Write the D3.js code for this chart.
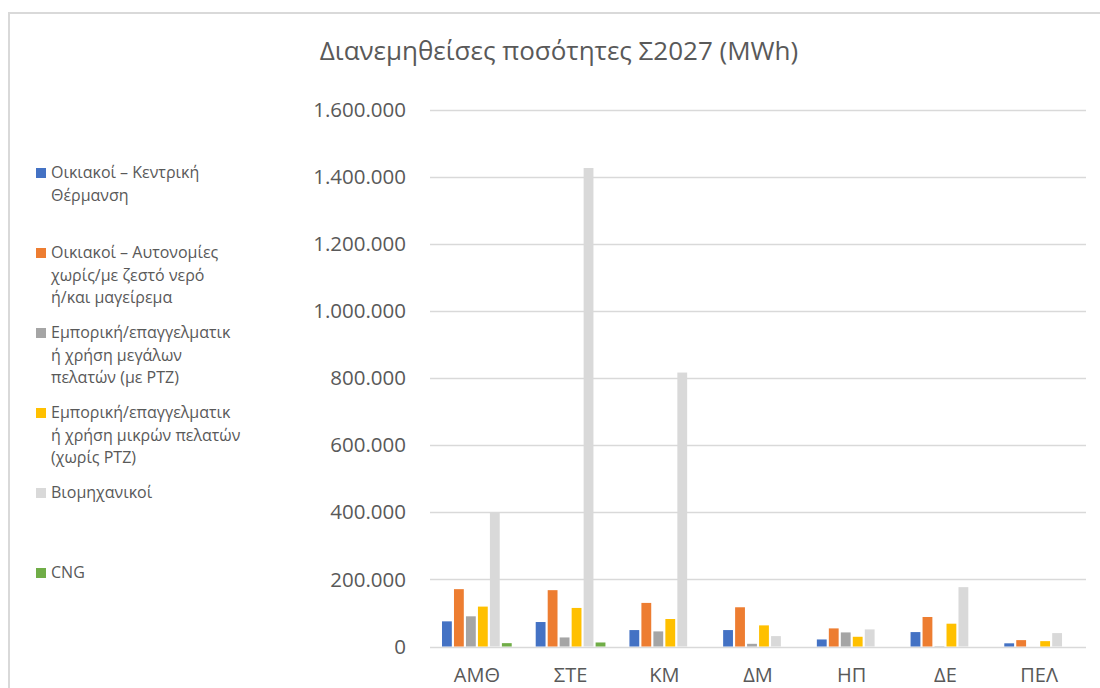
<!DOCTYPE html>
<html>
<head>
<meta charset="utf-8">
<script src="https://cdn.jsdelivr.net/npm/d3@7"></script>
<style>
    body { margin: 0; background: #fff; }
    text { font-family: "Open Sans", sans-serif; fill: #595959; }
</style>
</head>
<body>
<div id="chart"></div>
<script>
// -- DATA ----------------------------

let regions = ["ΑΜΘ", "ΣΤΕ", "ΚΜ", "ΔΜ", "ΗΠ", "ΔΕ", "ΠΕΛ"];

let seriesNames = [
    "Οικιακοί – Κεντρική Θέρμανση",
    "Οικιακοί – Αυτονομίες χωρίς/με ζεστό νερό ή/και μαγείρεμα",
    "Εμπορική/επαγγελματική χρήση μεγάλων πελατών (με PTZ)",
    "Εμπορική/επαγγελματική χρήση μικρών πελατών (χωρίς PTZ)",
    "Βιομηχανικοί",
    "CNG"
];

// legend text as it wraps in the picture
let legendLines = [
    ["Οικιακοί – Κεντρική", "Θέρμανση"],
    ["Οικιακοί – Αυτονομίες", "χωρίς/με ζεστό νερό", "ή/και μαγείρεμα"],
    ["Εμπορική/επαγγελματικ", "ή χρήση μεγάλων", "πελατών (με PTZ)"],
    ["Εμπορική/επαγγελματικ", "ή χρήση μικρών πελατών", "(χωρίς PTZ)"],
    ["Βιομηχανικοί"],
    ["CNG"]
];

let colors = ["#4472C4", "#ED7D31", "#A5A5A5", "#FFC000", "#D9D9D9", "#70AD47"];

// MWh per region, one array per series (same order as regions)
let centralHeating = [75000, 73000, 49000, 49000, 21000, 43000, 9500];
let autonomous     = [171000, 168000, 130000, 117000, 54000, 88000, 19000];
let commercialBig  = [90000, 27000, 45000, 8000, 42000, 1000, 0];
let commercialSmall= [119000, 115000, 82000, 63000, 29000, 68000, 16000];
let industrial     = [399000, 1427000, 817000, 31000, 51000, 177000, 40000];
let cng            = [10000, 12000, 0, 0, 0, 0, 0];

let yTicks = [0, 200000, 400000, 600000, 800000, 1000000, 1200000, 1400000, 1600000];

let seriesValues = [centralHeating, autonomous, commercialBig, commercialSmall, industrial, cng];

// -- LAYOUT ----------------------------

let width = 1100,
    height = 688;

var plot = { left: 430, right: 1086, top: 110, bottom: 646.5 };

var svg = d3.select("#chart")
    .append("svg")
    .attr("width", width)
    .attr("height", height);

// chart border
svg.append("rect")
    .attr("x", 9)
    .attr("y", 13)
    .attr("width", 1100)
    .attr("height", 700)
    .attr("fill", "none")
    .attr("stroke", "#d9d9d9")
    .attr("stroke-width", 2);

svg.append("text")
    .attr("x", 559)
    .attr("y", 60)
    .attr("text-anchor", "middle")
    .style("font-size", "26px")
    .text("Διανεμηθείσες ποσότητες Σ2027 (MWh)");

var locale = d3.formatLocale({ decimal: ",", thousands: ".", grouping: [3], currency: ["", ""] });
var fmt = locale.format(",");

var y = d3.scaleLinear()
    .domain([0, 1600000])
    .range([plot.bottom, plot.top]);

var x0 = d3.scaleBand()
    .domain(regions)
    .range([plot.left, plot.right])
    .paddingInner(0.21)
    .paddingOuter(0.105);

var x1 = d3.scaleBand()
    .domain(d3.range(seriesNames.length))
    .range([0, x0.bandwidth()])
    .padding(0.18);

// gridlines
svg.append("g")
    .selectAll("line")
    .data(yTicks)
    .enter()
    .append("line")
    .attr("x1", plot.left)
    .attr("x2", plot.right)
    .attr("y1", d => Math.round(y(d)) + 0.5)
    .attr("y2", d => Math.round(y(d)) + 0.5)
    .style("stroke", "#d9d9d9")
    .style("stroke-width", 1.3);

// y axis labels
var yAxis = d3.axisLeft(y)
    .tickValues(yTicks)
    .tickFormat(fmt)
    .tickSize(0)
    .tickPadding(0);

svg.append("g")
    .attr("transform", "translate(406,0)")
    .call(yAxis)
    .call(g => g.select(".domain").remove())
    .selectAll("text")
        .style("font-size", "20.5px")
        .style("font-family", "'Open Sans', sans-serif")
        .attr("fill", "#595959");

// bars
var groups = svg.append("g")
    .selectAll("g")
    .data(regions)
    .enter()
    .append("g")
    .attr("transform", d => "translate(" + x0(d) + ",0)");

groups.selectAll("rect")
    .data((d, i) => seriesValues.map((vals, s) => ({ s: s, v: vals[i] })))
    .enter()
    .append("rect")
    .attr("x", d => x1(d.s))
    .attr("width", x1.bandwidth())
    .attr("y", d => y(d.v))
    .attr("height", d => y(0) - y(d.v))
    .attr("fill", d => colors[d.s]);

// x axis labels
var xAxis = d3.axisBottom(x0)
    .tickSize(0)
    .tickPadding(0);

svg.append("g")
    .attr("transform", "translate(0,668)")
    .call(xAxis)
    .call(g => g.select(".domain").remove())
    .selectAll("text")
        .style("font-size", "20px")
        .style("font-family", "'Open Sans', sans-serif")
        .attr("fill", "#595959");

// legend
var legend = svg.append("g")
    .selectAll("g")
    .data(legendLines)
    .enter()
    .append("g")
    .attr("transform", (d, i) => "translate(36," + (168 + i * 80) + ")");

legend.append("rect")
    .attr("width", 10)
    .attr("height", 10)
    .attr("fill", (d, i) => colors[i]);

legend.append("text")
    .style("font-size", "16px")
    .selectAll("tspan")
    .data(d => d)
    .enter()
    .append("tspan")
    .attr("x", 15)
    .attr("y", (d, j) => 10 + j * 22.5)
    .text(d => d);
</script>
</body>
</html>
